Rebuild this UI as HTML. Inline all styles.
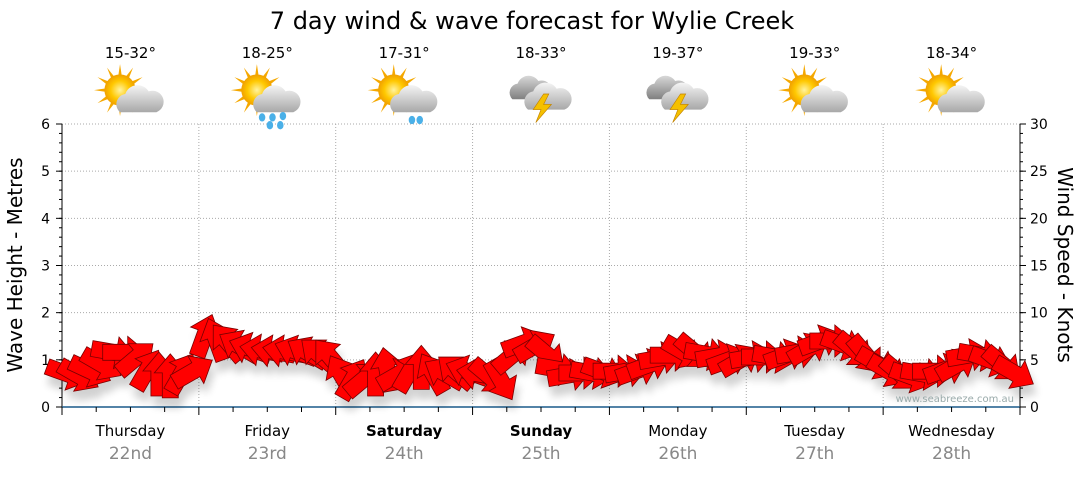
<!DOCTYPE html>
<html><head><meta charset="utf-8"><style>
body{margin:0;background:#fff;width:1080px;height:475px;overflow:hidden;font-family:"Liberation Sans","DejaVu Sans",sans-serif}
</style></head><body>
<svg id="c" width="1080" height="475" viewBox="0 0 1080 475" font-family="DejaVu Sans, Liberation Sans, sans-serif">
<defs>
<filter id="sh" x="-50%" y="-50%" width="200%" height="200%"><feGaussianBlur in="SourceAlpha" stdDeviation="4"/><feOffset dx="3" dy="10"/><feComponentTransfer><feFuncA type="linear" slope="0.18"/></feComponentTransfer><feMerge><feMergeNode/><feMergeNode in="SourceGraphic"/></feMerge></filter>
<radialGradient id="sun" cx="50%" cy="50%" r="50%"><stop offset="0" stop-color="#fff3a0"/><stop offset="0.6" stop-color="#ffc800"/><stop offset="1" stop-color="#f0a000"/></radialGradient>
<linearGradient id="cl" x1="0" y1="0" x2="0" y2="1"><stop offset="0" stop-color="#f4f4f4"/><stop offset="1" stop-color="#a8a8a8"/></linearGradient>
<linearGradient id="dcl" x1="0" y1="0" x2="0" y2="1"><stop offset="0" stop-color="#d8d8d8"/><stop offset="1" stop-color="#808080"/></linearGradient>
</defs>
<text x="532" y="29" text-anchor="middle" font-size="24" fill="#000">7 day wind &amp; wave forecast for Wylie Creek</text>
<g id="grid"></g>
<g id="axes"></g>
<g id="icons"></g>
<g id="arrows" filter="url(#sh)"></g>
<text x="1014" y="402" text-anchor="end" font-size="10" fill="#9aa">www.seabreeze.com.au</text>
<text transform="translate(22,265) rotate(-90)" text-anchor="middle" font-size="20" fill="#000">Wave Height - Metres</text>
<text transform="translate(1058,265) rotate(90)" text-anchor="middle" font-size="20" fill="#000">Wind Speed - Knots</text>
</svg>
<script>
const days=["Thursday","Friday","Saturday","Sunday","Monday","Tuesday","Wednesday"];
const dates=["22nd","23rd","24th","25th","26th","27th","28th"];
const boldDays=[false,false,true,true,false,false,false];
const temps=["15-32°","18-25°","17-31°","18-33°","19-37°","19-33°","18-34°"];
const icons=["partly","rain","shower","storm","storm","partly","partly"];
const leftTicks=[0,1,2,3,4,5,6];
const rightTicks=[0,5,10,15,20,25,30];
const windSpeed=[3.5,3.3,3.8,4.5,5.8,5.8,5.2,4.0,3.5,3.3,3.6,3.8,
7.6,7.2,6.9,6.5,6.2,6.0,5.9,5.9,5.9,5.8,5.6,5.3,
3.4,3.0,3.0,3.5,4.0,3.5,3.8,4.2,3.6,3.6,3.8,3.8,
3.5,3.2,2.8,5.5,6.8,6.5,5.6,4.0,3.4,3.6,3.6,3.7,
3.8,3.8,3.9,4.5,5.2,5.5,5.8,5.8,5.6,5.4,5.0,5.0,
5.3,5.3,5.3,5.5,5.8,6.2,7.0,7.0,6.6,6.0,5.5,4.6,
3.8,3.5,3.2,3.5,3.8,4.0,4.5,5.5,5.5,4.9,4.5,3.6];
const windDir=[20,30,25,30,10,0,-40,-60,-90,-90,-60,-30,
-70,-110,-130,-150,-160,-170,-170,-170,-160,-150,-140,-130,
-120,-60,-40,-90,-100,-30,-60,-90,-120,-150,-140,-160,
-170,40,60,-40,-20,-30,40,10,-10,0,10,20,
0,-10,-20,-20,-10,0,30,40,10,-10,-20,-30,
-10,0,10,-20,-10,-30,-20,0,20,40,50,30,
30,40,20,10,0,-20,-30,-10,10,20,40,30];
const NS='http://www.w3.org/2000/svg';
const X0=62,X1=1020,Y0=407,Y1=124;
const dayW=(X1-X0)/7;
const yL=v=>Y0-(v/6)*(Y0-Y1);
const yR=v=>Y0-(v/30)*(Y0-Y1);
const xi=i=>X0+(i+0.5)*(X1-X0)/windSpeed.length;
function el(t,a,p){const e=document.createElementNS(NS,t);for(const k in a)e.setAttribute(k,a[k]);p.appendChild(e);return e;}
const grid=document.getElementById('grid'),axes=document.getElementById('axes'),ic=document.getElementById('icons'),ar=document.getElementById('arrows');
for(const v of leftTicks){if(v>0){const g=el('line',{x1:X0,x2:X1,y1:yL(v),y2:yL(v),stroke:'#aaa','stroke-dasharray':'1,2'},grid);}
 const t=el('text',{x:X0-12,y:yL(v)+5,'text-anchor':'end','font-size':14},axes);t.textContent=v;
 el('line',{x1:X0-6,x2:X0,y1:yL(v),y2:yL(v),stroke:'#000'},axes);}
for(let v=0;v<6;v+=0.2){el('line',{x1:X0-3,x2:X0,y1:yL(v),y2:yL(v),stroke:'#000'},axes);}
for(const v of rightTicks){const t=el('text',{x:X1+10,y:yR(v)+5,'font-size':14},axes);t.textContent=v;
 el('line',{x1:X1,x2:X1+6,y1:yR(v),y2:yR(v),stroke:'#000'},axes);}
for(let v=0;v<30;v+=1){el('line',{x1:X1,x2:X1+3,y1:yR(v),y2:yR(v),stroke:'#000'},axes);}
el('line',{x1:X0,x2:X0,y1:Y1,y2:Y0,stroke:'#000'},axes);
el('line',{x1:X1,x2:X1,y1:Y1,y2:Y0,stroke:'#000'},axes);
el('line',{x1:X0,x2:X1,y1:Y0,y2:Y0,stroke:'#1a5a8a','stroke-width':1.5},axes);
for(let d=0;d<=7;d++){const x=X0+d*dayW;
 if(d>0&&d<7)el('line',{x1:x,x2:x,y1:Y1,y2:Y0,stroke:'#aaa','stroke-dasharray':'1,2'},grid);
 el('line',{x1:x,x2:x,y1:Y0,y2:Y0+8,stroke:'#000'},axes);
 if(d<7)for(let k=1;k<4;k++){const xx=x+k*dayW/4;el('line',{x1:xx,x2:xx,y1:Y0,y2:Y0+5,stroke:'#000'},axes);}}
days.forEach((d,i)=>{const cx=X0+(i+0.5)*dayW;
 const t=el('text',{x:cx,y:436,'text-anchor':'middle','font-size':15,'font-weight':boldDays[i]?'bold':'normal'},axes);t.textContent=d;
 const t2=el('text',{x:cx,y:459,'text-anchor':'middle','font-size':17,fill:'#888'},axes);t2.textContent=dates[i];
 const t3=el('text',{x:cx,y:58,'text-anchor':'middle','font-size':15},ic);t3.textContent=temps[i];
 const g=el('g',{transform:`translate(${cx},94) scale(1.3)`},ic);
 const kind=icons[i];
 if(kind!=='storm'){for(let a=0;a<360;a+=30){el('polygon',{points:'-3,0 3,0 0,-20',fill:'#f5a800',transform:`translate(-8,-3) rotate(${a})`},g);}
  el('circle',{cx:-8,cy:-3,r:12,fill:'url(#sun)'},g);
  el('path',{d:'M-8,14 a8,8 0 0 1 4,-14 a10,10 0 0 1 18,-2 a8,8 0 0 1 6,16 z',fill:'url(#cl)'},g);
  if(kind==='rain'||kind==='shower'){const drops=kind==='rain'?[[-4,18],[4,18],[12,17],[2,24],[10,24]]:[[6,20],[12,20]];drops.forEach(p=>el('ellipse',{cx:p[0],cy:p[1],rx:2.5,ry:3.2,fill:'#4ab0e8'},g));}
 } else {el('path',{d:'M-22,4 a7,7 0 0 1 4,-12 a9,9 0 0 1 16,-2 a7,7 0 0 1 5,14 z',fill:'url(#dcl)'},g);
  el('path',{d:'M-10,12 a8,8 0 0 1 4,-14 a10,10 0 0 1 18,-2 a8,8 0 0 1 6,16 z',fill:'url(#cl)'},g);
  el('polygon',{points:'2,0 -6,12 0,12 -4,22 8,8 2,8 6,0',fill:'#f5c000',stroke:'#c08000','stroke-width':0.5},g);}
});
windSpeed.forEach((v,i)=>{const p=el('polygon',{points:'-22,-8 3,-8 3,-16 22,0 3,16 3,8 -22,8',fill:'#f00',stroke:'#700','stroke-width':0.8,transform:`translate(${xi(i).toFixed(1)},${yR(v).toFixed(1)}) rotate(${windDir[i]})`},ar);
 
 });
</script>
</body></html>
